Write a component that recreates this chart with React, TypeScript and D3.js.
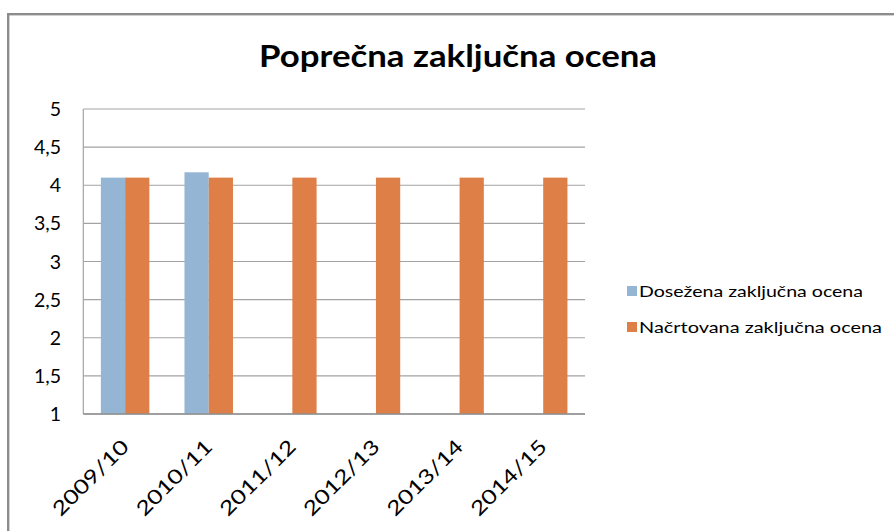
import React from "react";
import * as d3 from "d3";

const categories = ["2009/10", "2010/11", "2011/12", "2012/13", "2013/14", "2014/15"];
const seriesNames = ["Dosežena zaključna ocena", "Načrtovana zaključna ocena"];
const achieved: (number | null)[] = [4.1, 4.17, null, null, null, null];
const planned: (number | null)[] = [4.1, 4.1, 4.1, 4.1, 4.1, 4.1];
const yTicks = [1, 1.5, 2, 2.5, 3, 3.5, 4, 4.5, 5];
const title = "Poprečna zaključna ocena";

const colors = ["#94B5D4", "#DE7F48"];
const FONT = "Lato, 'DejaVu Sans', sans-serif";

export default function App() {
  const W = 894, H = 531;
  const left = 83.3, right = 585, top = 109, bottom = 414;
  const x = d3.scaleBand<string>().domain(categories).range([left, right]).paddingInner(0.42).paddingOuter(0.21);
  const sub = d3.scaleBand<number>().domain([0, 1]).range([0, x.bandwidth()]);
  const y = d3.scaleLinear().domain([1, 5]).range([bottom, top]);
  const series = [achieved, planned];
  const fmt = (v: number) => String(v).replace(".", ",");

  return (
    <svg width={W} height={H} style={{ position: "absolute", left: 0, top: 0 }}>
      <rect x={0} y={0} width={W} height={H} fill="#fff" />
      <rect x={8.2} y={14.2} width={W + 20} height={H + 20} fill="#fff" stroke="#8c8c8c" strokeWidth={2.4} />
      <text x={458} y={67} textAnchor="middle" fontFamily={FONT} fontWeight="bold" fontSize={30}
        textLength={398} lengthAdjust="spacingAndGlyphs" fill="#000">{title}</text>
      {yTicks.map((t) => (
        <line key={"g" + t} x1={left} x2={right} y1={y(t)} y2={y(t)} stroke="#a3a3a3" strokeWidth={1.2} />
      ))}
      <line x1={left} x2={left} y1={top} y2={bottom} stroke="#a3a3a3" strokeWidth={1.2} />
      {yTicks.map((t) => (
        <text key={"t" + t} x={61} y={y(t)} dy="0.36em" textAnchor="end" fontFamily={FONT}
          fontSize={19.5} fill="#000">{fmt(t)}</text>
      ))}
      {series.map((s, si) =>
        s.map((v, i) =>
          v == null ? null : (
            <rect key={si + "-" + i} x={(x(categories[i]) as number) + (sub(si) as number)} y={y(v)}
              width={sub.bandwidth()} height={y(1) - y(v)} fill={colors[si]} />
          )
        )
      )}
      <line x1={left} x2={right} y1={bottom} y2={bottom} stroke="#8f8f8f" strokeWidth={1.4} />
      {categories.map((c) => {
        const cx = (x(c) as number) + x.bandwidth() / 2 + 5;
        const cy = 448;
        return (
          <text key={c} transform={`translate(${cx},${cy}) rotate(-45)`} textAnchor="end" fontFamily={FONT}
            fontSize={20} fill="#000" textLength={98} lengthAdjust="spacingAndGlyphs">{c}</text>
        );
      })}
      {seriesNames.map((n, i) => (
        <g key={n} transform={`translate(627,${286 + i * 36})`}>
          <rect x={0} y={0} width={10} height={10} fill={colors[i]} />
          <text x={12} y={10.5} fontFamily={FONT} fontSize={16} fill="#000"
            textLength={i === 0 ? 224 : 243} lengthAdjust="spacingAndGlyphs">{n}</text>
        </g>
      ))}
    </svg>
  );
}
